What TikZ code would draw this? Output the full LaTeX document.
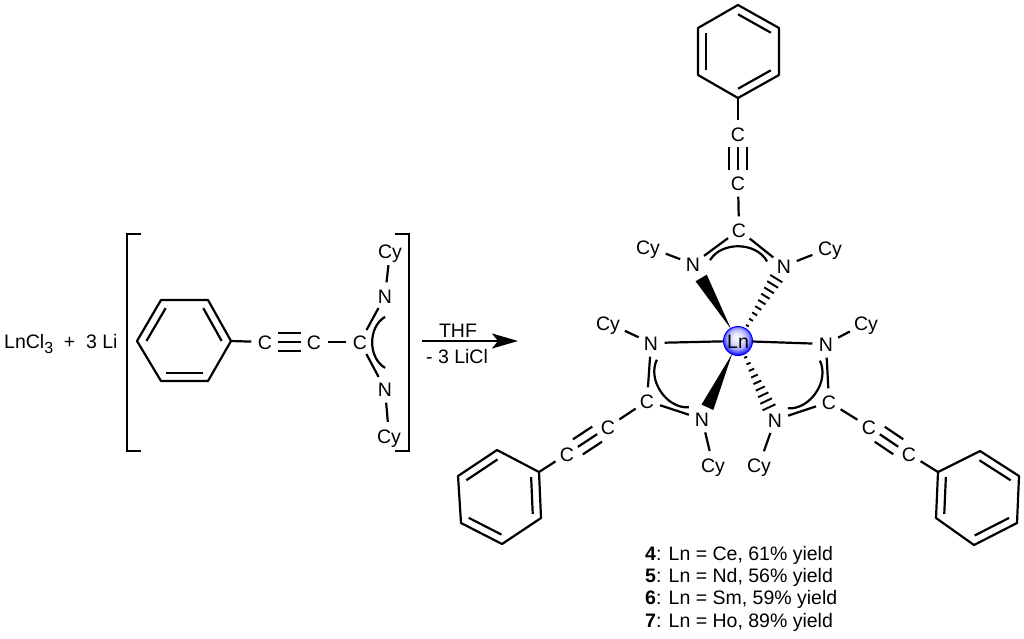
\documentclass[tikz,border=0pt]{standalone}
\usepackage{fontspec}
\setmainfont{Liberation Sans}
\usetikzlibrary{calc,arrows.meta,shapes.geometric}
\pgfdeclareradialshading{lnball}{\pgfpoint{-2bp}{6bp}}{%
  color(0bp)=(white);
  color(10bp)=(blue!12);
  color(18bp)=(blue!35);
  color(26bp)=(blue!90);
  color(32bp)=(blue);
  color(50bp)=(blue)}
\tikzset{
  atom/.style={circle,inner sep=0pt,minimum size=27pt,text height=14pt,text depth=0pt},
  cy/.style={ellipse,inner sep=0pt,minimum width=40pt,minimum height=28pt,text height=14pt,text depth=0pt},
  metal/.style={circle,inner sep=0pt,minimum size=29pt,text height=14pt,text depth=0pt,shading=lnball,draw=blue,line width=1pt},
  txt/.style={inner sep=0pt,anchor=base west},
  bond/.style={line width=2.2pt,draw=black},
  thin bond/.style={line width=1.9pt,draw=black}
}
% triple bond between two named atoms
\newcommand{\triplebond}[2]{%
  \draw[bond,shorten <=13pt,shorten >=13pt] ($(#1)!9pt!90:(#2)$) -- ($(#2)!9pt!-90:(#1)$);
  \draw[bond,shorten <=13pt,shorten >=13pt] ($(#1)!9pt!-90:(#2)$) -- ($(#2)!9pt!90:(#1)$);
  \draw[bond,shorten <=13pt,shorten >=13pt] (#1.center) -- (#2.center);
}
% delocalised N-C-N: two bonds and an inner arc; #1 C, #2 and #3 N (C to the left of travel #2 to #3)
% #4 position along the bond, #5 bend angle, #6 offset of the arc ends
\newcommand{\deloc}[6]{%
  \draw[bond] (#1) -- (#2);
  \draw[bond] (#1) -- (#3);
  \draw[bond] ($(#1)!#4!(#2)!#6pt!90:(#2)$) to[bend left=#5] ($(#1)!#4!(#3)!#6pt!-90:(#3)$);
}
% wedge from metal #1 to atom #2
\newcommand{\wedgebond}[2]{%
  \fill ($(#1)!14pt!(#2)$) -- ($(#1)!73pt!(#2)!6.5pt!90:(#2)$) -- ($(#1)!73pt!(#2)!6.5pt!-90:(#2)$) -- cycle;
}
% hashed bond from metal #1 to atom #2
\newcommand{\hashbond}[2]{%
  \foreach \hi in {0,...,8}{%
    \pgfmathsetmacro{\hd}{18+6.9*\hi}%
    \pgfmathsetmacro{\hw}{1.5+0.7*\hi}%
    \draw[thin bond] ($(#1)!\hd pt!(#2)!\hw pt!90:(#2)$) -- ($(#1)!\hd pt!(#2)!\hw pt!-90:(#2)$);
  }%
}
% phenyl ring: name, six vertices
\newcommand{\ringcoords}[7]{%
  \coordinate (#1a) at #2; \coordinate (#1b) at #3; \coordinate (#1c) at #4;
  \coordinate (#1d) at #5; \coordinate (#1e) at #6; \coordinate (#1f) at #7;
  \coordinate (#1o) at ($1/6*(#1a)+1/6*(#1b)+1/6*(#1c)+1/6*(#1d)+1/6*(#1e)+1/6*(#1f)$);
  \draw[bond,line join=round] (#1a) -- (#1b) -- (#1c) -- (#1d) -- (#1e) -- (#1f) -- cycle;
}
\newcommand{\ringdouble}[3]{%
  \draw[bond] ($(#1o)!.8!(#1#2)$) -- ($(#1o)!.8!(#1#3)$);
}
\begin{document}
\begin{tikzpicture}[x=1pt,y=-1pt,font=\fontsize{19.5}{22}\selectfont]
\useasboundingbox (0,0) rectangle (1024,638);
\fill[white] (0,0) rectangle (1024,638);

% Reagent
\node[txt] (lncl) at (4,348) {LnCl\raisebox{-5pt}{\fontsize{16}{16}\selectfont 3}\hspace{0.55em}+\hspace{0.55em}3 Li};
\ringcoords{pr}{(161,300)}{(208,300)}{(231,341)}{(208,381)}{(161,381)}{(137,341)}
\ringdouble{pr}{b}{c}\ringdouble{pr}{d}{e}\ringdouble{pr}{f}{a}
\node[atom] (rc1) at (265,342) {C};
\node[atom] (rc2) at (314,342) {C};
\node[atom] (rc3) at (360,342) {C};
\node[atom] (rn1) at (385,296) {N};
\node[atom] (rn2) at (385,389) {N};
\node[cy] (rcy1) at (390,251) {Cy};
\node[cy] (rcy2) at (389,436) {Cy};
\draw[bond] (prc) -- (rc1);
\triplebond{rc1}{rc2}
\draw[bond] (rc2) -- (rc3);
\deloc{rc3}{rn2}{rn1}{.65}{60}{10}
\draw[bond] (rn1) -- (rcy1);
\draw[bond] (rn2) -- (rcy2);
\draw[bond] (141,234) -- (127,234) -- (127,451) -- (141,451);
\draw[bond] (395,234) -- (409,234) -- (409,451) -- (395,451);

% Arrow
\coordinate (arrA) at (422,341);
\coordinate (arrB) at (518,341);
\draw[bond,-{Stealth[length=26pt,width=15pt,inset=6pt]}] (arrA) -- (arrB);
\node[inner sep=0pt,anchor=base] (thf) at (458,337) {THF};
\node[inner sep=0pt,anchor=base] (licl) at (457,363) {- 3 LiCl};

% Complex
\node[metal] (ln) at (738,341) {Ln};
\node[atom] (tc) at (739,230) {C};
\node[atom] (tn1) at (693,264) {N};
\node[atom] (tn2) at (784,266) {N};
\node[cy] (tcy1) at (648,247) {Cy};
\node[cy] (tcy2) at (830,248) {Cy};
\node[atom] (tc1) at (738,183) {C};
\node[atom] (tc2) at (738,134) {C};
\ringcoords{pt}{(738,5)}{(779,28)}{(779,75)}{(738,98)}{(698,75)}{(698,28)}
\ringdouble{pt}{a}{b}\ringdouble{pt}{c}{d}\ringdouble{pt}{e}{f}
\draw[bond] (ptd) -- (tc2);
\triplebond{tc2}{tc1}
\draw[bond] (tc1) -- (tc);
\deloc{tc}{tn1}{tn2}{.72}{60}{7}
\draw[bond] (tn1) -- (tcy1);
\draw[bond] (tn2) -- (tcy2);

\node[atom] (ln1) at (651,343) {N};
\node[atom] (lc) at (647,401) {C};
\node[atom] (ln2) at (702,419) {N};
\node[cy] (lcy1) at (608,323) {Cy};
\node[cy] (lcy2) at (713,465) {Cy};
\node[atom] (lc1) at (608,427) {C};
\node[atom] (lc2) at (567,454) {C};
\ringcoords{pl}{(497,450)}{(539,472)}{(541,518)}{(502,544)}{(461,523)}{(458,476)}
\ringdouble{pl}{a}{f}\ringdouble{pl}{b}{c}\ringdouble{pl}{d}{e}
\draw[bond] (plb) -- (lc2);
\triplebond{lc2}{lc1}
\draw[bond] (lc1) -- (lc);
\deloc{lc}{ln2}{ln1}{.72}{60}{7}
\draw[bond] (ln1) -- (lcy1);
\draw[bond] (ln2) -- (lcy2);

\node[atom] (mn1) at (826,344) {N};
\node[atom] (mc) at (829,402) {C};
\node[atom] (mn2) at (775,420) {N};
\node[cy] (mcy1) at (866,323) {Cy};
\node[cy] (mcy2) at (759,465) {Cy};
\node[atom] (mc1) at (869,427) {C};
\node[atom] (mc2) at (909,454) {C};
\ringcoords{pm}{(980,451)}{(1019,476)}{(1017,523)}{(974,545)}{(936,518)}{(938,472)}
\ringdouble{pm}{a}{b}\ringdouble{pm}{c}{d}\ringdouble{pm}{e}{f}
\draw[bond] (pmf) -- (mc2);
\triplebond{mc2}{mc1}
\draw[bond] (mc1) -- (mc);
\deloc{mc}{mn1}{mn2}{.72}{60}{7}
\draw[bond] (mn1) -- (mcy1);
\draw[bond] (mn2) -- (mcy2);

% Metal bonds
\draw[bond] (ln) -- (ln1);
\draw[bond] (ln) -- (mn1);
\wedgebond{ln}{tn1}
\wedgebond{ln}{ln2}
\hashbond{ln}{tn2}
\hashbond{ln}{mn2}

% Legend
\node[txt] (y4) at (645,560) {\textbf{4}: Ln = Ce, 61\% yield};
\node[txt] (y5) at (645,582) {\textbf{5}: Ln = Nd, 56\% yield};
\node[txt] (y6) at (645,604) {\textbf{6}: Ln = Sm, 59\% yield};
\node[txt] (y7) at (645,627) {\textbf{7}: Ln = Ho, 89\% yield};
\end{tikzpicture}
\end{document}
